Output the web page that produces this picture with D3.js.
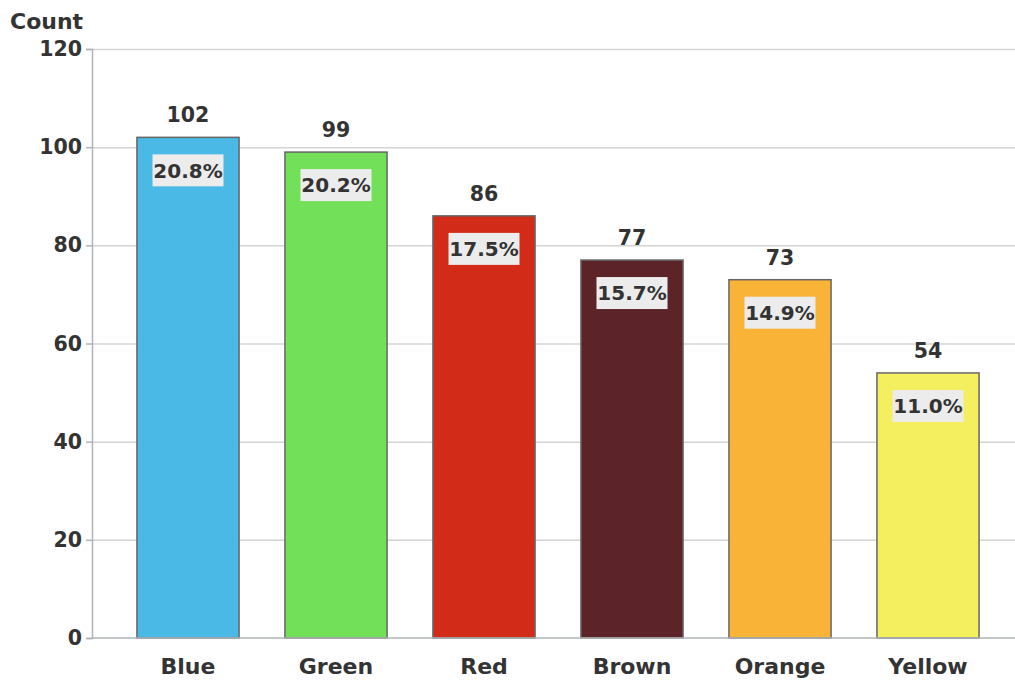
<!DOCTYPE html>
<html>
<head>
<meta charset="utf-8">
<script src="https://cdn.jsdelivr.net/npm/d3@7"></script>
<style>
	body { margin: 0; background: #fff; }
	text { font-family: "DejaVu Sans", sans-serif; font-weight: bold; fill: #333; }
</style>
</head>
<body>
<svg id="chart" width="1015" height="681"></svg>
<script>
let categories = ["Blue", "Green", "Red", "Brown", "Orange", "Yellow"];
let counts = [102, 99, 86, 77, 73, 54];
let percents = ["20.8%", "20.2%", "17.5%", "15.7%", "14.9%", "11.0%"];
let barColors = ["#4bb9e6", "#73e05a", "#d22b17", "#5c2328", "#f9b336", "#f4ef5f"];
let yTicks = [0, 20, 40, 60, 80, 100, 120];

let data = categories.map((c, i) => ({cat: c, n: counts[i], pct: percents[i], color: barColors[i]}));

let plotL = 92, plotR = 1015, plotT = 49, plotB = 638;

let svg = d3.select("#chart");

let x = d3.scaleBand()
	.domain(categories)
	.range([114, 1002])
	.paddingInner(0.31)
	.paddingOuter(0.155);

let y = d3.scaleLinear()
	.domain([0, 120])
	.range([plotB, plotT]);

// gridlines
svg.append("g")
	.selectAll("line")
	.data(yTicks.filter(d => d > 0))
	.join("line")
		.attr("x1", plotL).attr("x2", plotR)
		.attr("y1", d => y(d) + .5).attr("y2", d => y(d) + .5)
		.attr("stroke", "#d4d4d4")
		.attr("stroke-width", 1.5);

// y axis
let yAxis = svg.append("g")
	.attr("transform", `translate(${plotL},0)`)
	.call(d3.axisLeft(y).tickValues(yTicks).tickSize(6).tickPadding(4));
yAxis.select(".domain").attr("stroke", "#b0b4b8").attr("stroke-width", 1.5);
yAxis.selectAll(".tick line").attr("stroke", "#b0b4b8").attr("stroke-width", 1.5);
yAxis.selectAll("text").style("font-size", "20.5px").attr("fill", "#333");

// bars
svg.append("g")
	.selectAll("rect")
	.data(data)
	.join("rect")
		.attr("x", d => x(d.cat))
		.attr("y", d => y(d.n))
		.attr("width", x.bandwidth())
		.attr("height", d => y(0) - y(d.n))
		.attr("fill", d => d.color)
		.attr("stroke", "#666")
		.attr("stroke-width", 1.5);

// x axis baseline
svg.append("line")
	.attr("x1", plotL).attr("x2", plotR)
	.attr("y1", plotB).attr("y2", plotB)
	.attr("stroke", "#b0b4b8")
	.attr("stroke-width", 1.5);

// category labels
svg.append("g")
	.selectAll("text")
	.data(data)
	.join("text")
		.attr("x", d => x(d.cat) + x.bandwidth() / 2)
		.attr("y", plotB + 36)
		.attr("text-anchor", "middle")
		.style("font-size", "22px")
		.text(d => d.cat);

// count labels
svg.append("g")
	.selectAll("text")
	.data(data)
	.join("text")
		.attr("x", d => x(d.cat) + x.bandwidth() / 2)
		.attr("y", d => y(d.n) - 15)
		.attr("text-anchor", "middle")
		.style("font-size", "20.5px")
		.text(d => d.n);

// percent labels with boxes
let pg = svg.append("g")
	.selectAll("g")
	.data(data)
	.join("g")
		.attr("transform", d => `translate(${x(d.cat) + x.bandwidth() / 2},${y(d.n) + 33})`);
pg.append("rect")
	.attr("x", -35.5).attr("y", -16)
	.attr("width", 71).attr("height", 32)
	.attr("fill", "#ececec");
pg.append("text")
	.attr("text-anchor", "middle")
	.attr("dy", "0.36em")
	.style("font-size", "20px")
	.text(d => d.pct);

// axis title
svg.append("text")
	.attr("x", 10)
	.attr("y", 29)
	.style("font-size", "22px")
	.text("Count");
</script>
</body>
</html>
